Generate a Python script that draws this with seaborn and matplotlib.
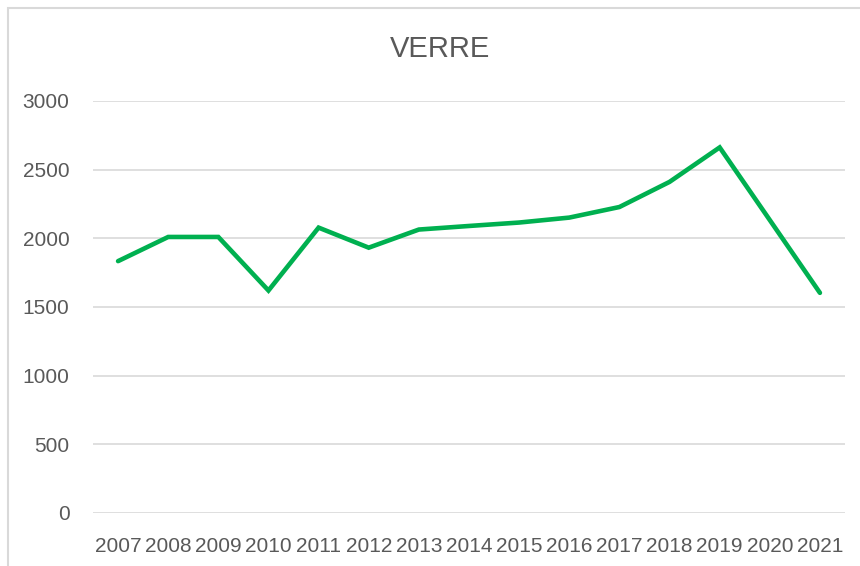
import matplotlib
matplotlib.use("Agg")
import matplotlib.pyplot as plt
import seaborn as sns
import pandas as pd
from matplotlib.patches import Rectangle

# Données
annees = [2007, 2008, 2009, 2010, 2011, 2012, 2013, 2014,
          2015, 2016, 2017, 2018, 2019, 2020, 2021]
tonnes = [1834, 2010, 2010, 1620, 2078, 1932, 2064, 2090,
          2115, 2151, 2228, 2411, 2662, 2133, 1603]
yticks = [0, 500, 1000, 1500, 2000, 2500, 3000]
titre = "VERRE"

df = pd.DataFrame({"annee": annees, "tonnes": tonnes})

sns.set_style("white")
plt.rcParams['font.family'] = ['Liberation Sans', 'DejaVu Sans']

fig = plt.figure(figsize=(8.6, 5.66), dpi=100)
ax = fig.add_axes([93/860, 53/566, 752/860, 412/566])

sns.lineplot(data=df, x="annee", y="tonnes", ax=ax, color="#00B050",
             linewidth=3.3, solid_joinstyle="miter")

ax.set_xlim(annees[0] - 0.5, annees[-1] + 0.5)
ax.set_ylim(0, 3000)
ax.set_xticks(annees)
ax.set_xticklabels([str(a) for a in annees])
ax.set_yticks(yticks)
ax.yaxis.grid(True, color="#D9D9D9", linewidth=1.2)
ax.set_axisbelow(True)
ax.set_xlabel("")
ax.set_ylabel("")
for s in ax.spines.values():
    s.set_visible(False)
ax.tick_params(axis="x", length=0, pad=17, labelsize=15, labelcolor="#595959")
ax.tick_params(axis="y", length=0, pad=17, labelsize=15, labelcolor="#595959")

fig.text(440/860, 1 - 49/566, titre, ha="center", va="center",
         fontsize=21, color="#595959")

# cadre du graphique
fig.patches.append(Rectangle((8/860, -0.1), 1.2, 1.1 - 8/566,
                             transform=fig.transFigure, fill=False,
                             edgecolor="#D9D9D9", linewidth=1.5))

fig.savefig("out.png", dpi=100)
